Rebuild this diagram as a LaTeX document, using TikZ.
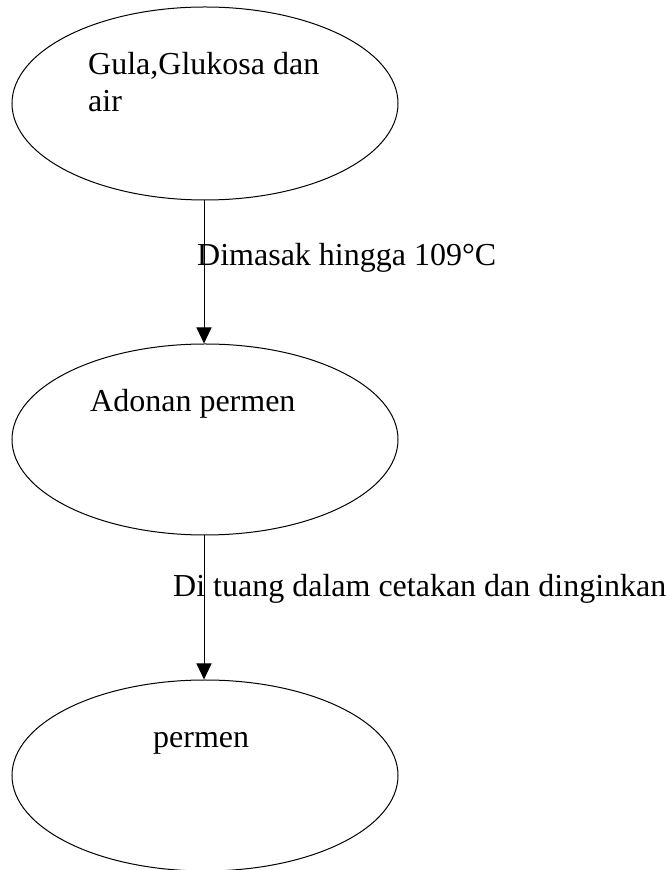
\documentclass[tikz,border=0pt]{standalone}
\usepackage{fontspec}
\setmainfont{Liberation Serif}
\usetikzlibrary{shapes.geometric,arrows.meta}
\begin{document}
\begin{tikzpicture}[x=1pt,y=1pt,
  blob/.style={draw,ellipse,line width=1pt,inner sep=0pt,minimum width=386pt,minimum height=193pt},
  lbl/.style={anchor=base west,inner sep=0pt,font=\fontsize{32}{37}\selectfont},
  flow/.style={line width=1pt,-{Triangle[width=15pt,length=16pt]}}]
\useasboundingbox (0,0) rectangle (668,870);
\node[blob] (e1) at (205,766.5) {};
\node[blob,minimum height=191pt] (e2) at (205,430.5) {};
\node[blob,minimum height=191pt] (e3) at (205,94.5) {};
\node[lbl] (t1a) at (88,795) {Gula,Glukosa dan};
\node[lbl] (t1b) at (88,758) {air};
\node[lbl] (t2) at (90,458) {Adonan permen};
\node[lbl] (t3) at (153,122) {permen};
\coordinate (a1s) at (204,673);
\coordinate (a1e) at (204,526);
\coordinate (a2s) at (204,335);
\coordinate (a2e) at (204,190);
\draw[flow] (e1.south -| a1s) -- (e2.north -| a1s);
\draw[flow] (e2.south -| a1s) -- (e3.north -| a1s);
\node[lbl] (l1) at (197,604) {Dimasak hingga 109°C};
\node[lbl] (l2) at (173,273) {Di tuang dalam cetakan dan dinginkan};
\end{tikzpicture}
\end{document}
